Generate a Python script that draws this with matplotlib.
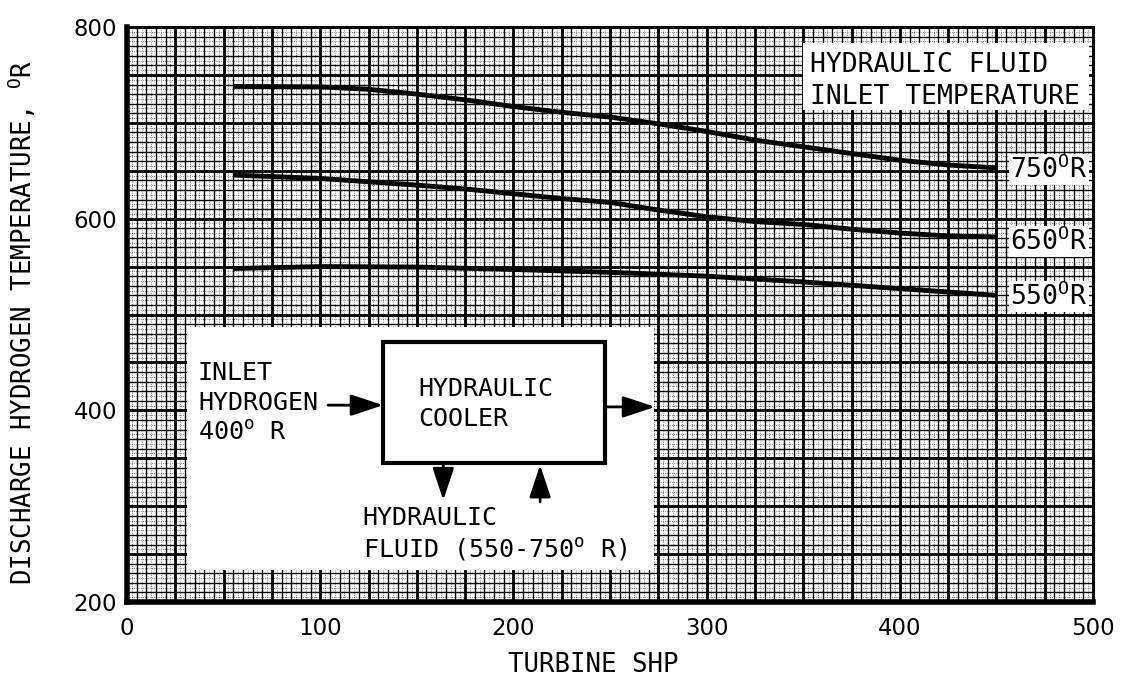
import numpy as np
import matplotlib
matplotlib.use("Agg")
import matplotlib.pyplot as plt
from matplotlib.patches import Rectangle

plt.rcParams['font.family'] = 'DejaVu Sans Mono'
plt.rcParams['mathtext.fontset'] = 'custom'
plt.rcParams['mathtext.rm'] = 'DejaVu Sans Mono'

# values: turbine shp vs discharge hydrogen temp (deg R)
shp = [55, 100, 125, 150, 175, 200, 225, 250, 275, 300, 325, 350, 375, 400, 425, 450]
temp_750 = [738, 737.5, 735, 730, 724, 717, 711, 706, 699, 691, 682, 675, 668, 661, 656, 653]
temp_650 = [645.5, 642, 638.5, 635, 631, 626, 621, 617, 609, 602, 597, 594, 589, 585, 582, 581]
shp_550 = [55, 100, 150, 200, 250, 300, 350, 400, 450]
temp_550 = [548, 550, 549.5, 547, 544, 540, 534, 527, 520]

curve_names = ['750', '650', '550']
curve_label_y = [651, 576, 518.5]

x_ticks = [0, 100, 200, 300, 400, 500]
y_ticks = [200, 400, 600, 800]

fig = plt.figure(figsize=(11.3, 6.87), dpi=100)
ax = fig.add_axes([0.1124, 0.1237, 0.8549, 0.837])
ax.set_xlim(0, 500)
ax.set_ylim(200, 800)

# graph paper
for xv in np.arange(2.5, 500, 5):
    ax.axvline(xv, color='k', lw=0.4, ls=(0, (1.5, 2.5)), zorder=1)
for yv in np.arange(205, 800, 10):
    ax.axhline(yv, color='k', lw=0.4, ls=(0, (1.5, 2.5)), zorder=1)
for xv in np.arange(5, 500, 5):
    ax.axvline(xv, color='k', lw=1.0, zorder=1)
for yv in np.arange(210, 800, 10):
    ax.axhline(yv, color='k', lw=1.0, zorder=1)
for xv in np.arange(25, 500, 25):
    ax.axvline(xv, color='k', lw=2.0, zorder=1)
for yv in np.arange(250, 800, 50):
    ax.axhline(yv, color='k', lw=2.0, zorder=1)

# white patches over the paper
ax.add_patch(Rectangle((350, 713), 148, 70, facecolor='white', edgecolor='none', zorder=2))
ax.add_patch(Rectangle((31, 233), 242, 254, facecolor='white', edgecolor='none', zorder=2))

ax.plot(shp, temp_750, color='k', lw=3.5, zorder=4, solid_capstyle='butt')
ax.plot(shp, temp_650, color='k', lw=3.5, zorder=4, solid_capstyle='butt')
ax.plot(shp_550, temp_550, color='k', lw=3.5, zorder=4, solid_capstyle='butt')

for name, yl in zip(curve_names, curve_label_y):
    ax.text(457, yl, name + r'$^{\mathrm{O}}$R', fontsize=19, va='center', ha='left', zorder=5,
            bbox=dict(facecolor='white', edgecolor='none', pad=1))

ax.text(353.5, 760, 'HYDRAULIC FLUID', fontsize=19, va='center', ha='left', zorder=5)
ax.text(353.5, 727, 'INLET TEMPERATURE', fontsize=19, va='center', ha='left', zorder=5)

# inset schematic
ax.add_patch(Rectangle((132.5, 344.6), 114.9, 126.9, facecolor='white', edgecolor='k', lw=3, zorder=3))
ax.text(150.6, 406.5, 'HYDRAULIC\nCOOLER', fontsize=18, va='center', ha='left', linespacing=1.3, zorder=4)
ax.text(36.7, 408, 'INLET\nHYDROGEN\n400$^{\\mathrm{o}}$ R', fontsize=18, va='center', ha='left',
        linespacing=1.3, zorder=4)
ax.text(122, 270.5, 'HYDRAULIC\nFLUID (550-750$^{\\mathrm{o}}$ R)', fontsize=18, va='center', ha='left',
        linespacing=1.3, zorder=4)

arrow_kw = dict(arrowstyle='-|>,head_length=0.9,head_width=0.3', lw=2, color='k',
                shrinkA=0, shrinkB=0, mutation_scale=22)
ax.annotate('', xy=(132.5, 405.4), xytext=(104, 405.4), arrowprops=arrow_kw, zorder=4)
ax.annotate('', xy=(273.3, 403.6), xytext=(247.4, 403.6), arrowprops=arrow_kw, zorder=4)
ax.annotate('', xy=(163.7, 306.3), xytext=(163.7, 344.6), arrowprops=arrow_kw, zorder=4)
ax.annotate('', xy=(213.8, 342.8), xytext=(213.8, 304.5), arrowprops=arrow_kw, zorder=4)

# axes frame
for side in ['left', 'bottom']:
    ax.spines[side].set_linewidth(4)
for side in ['top', 'right']:
    ax.spines[side].set_linewidth(2.2)
for sp in ax.spines.values():
    sp.set_zorder(6)

ax.set_xticks(x_ticks)
ax.set_xticklabels([str(v) for v in x_ticks], fontfamily='DejaVu Sans', fontsize=16.5)
ax.set_yticks(y_ticks)
ax.set_yticklabels([str(v) for v in y_ticks], fontfamily='DejaVu Sans', fontsize=16.5)
ax.tick_params(length=0)
ax.tick_params(axis='x', pad=11)
ax.tick_params(axis='y', pad=7)

fig.text(593 / 1130, 1 - 665 / 687, 'TURBINE SHP', fontsize=18.5, ha='center', va='center')
fig.text(22 / 1130, 1 - 322 / 687, r'DISCHARGE HYDROGEN TEMPERATURE, $^{\mathrm{O}}$R', fontsize=18.5,
         ha='center', va='center', rotation=90)

fig.savefig('out.png', dpi=100)
